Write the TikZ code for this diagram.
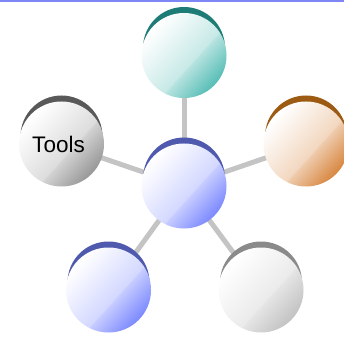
\documentclass[tikz,border=0pt]{standalone}
\usepackage{fontspec}
\setmainfont{Liberation Sans}
\usetikzlibrary{backgrounds}
\definecolor{topline}{HTML}{7F87F7}
\definecolor{connector}{HTML}{C4C4C4}
\definecolor{tealdark}{HTML}{1E7C76}
\definecolor{tealend}{HTML}{5BBFB8}
\definecolor{bluedark}{HTML}{4F5AAE}
\definecolor{blueend}{HTML}{7F8CFF}
\definecolor{graydark}{HTML}{595959}
\definecolor{grayend}{HTML}{9A9A9A}
\definecolor{orangedark}{HTML}{9C5A12}
\definecolor{orangeend}{HTML}{D98A45}
\definecolor{lgraydark}{HTML}{8A8A8A}
\definecolor{lgrayend}{HTML}{C4C4C4}
\newcommand{\myballshading}[2]{%
  \pgfdeclarehorizontalshading{#1}{100bp}{color(0bp)=(white); color(26bp)=(white); color(56bp)=(#2!34); color(56.6bp)=(#2!44); color(74bp)=(#2); color(100bp)=(#2)}}
\myballshading{tealsh}{tealend}
\myballshading{bluesh}{blueend}
\myballshading{graysh}{grayend}
\myballshading{orangesh}{orangeend}
\myballshading{lgraysh}{lgrayend}
\tikzset{
  ball/.style={circle, minimum size=85pt, inner sep=0pt, shading=#1, shading angle=-42},
  link/.style={draw=connector, line width=5pt},
}
\begin{document}
\begin{tikzpicture}[x=1pt, y=-1pt]
\useasboundingbox (0,0) rectangle (344,336);
\fill[topline] (0,0) rectangle (344,2.5);
% crescents
\fill[tealdark] (184,48) circle (41pt);
\fill[bluedark] (184,178.5) circle (41pt);
\fill[graydark] (61.5,136.5) circle (41pt);
\fill[orangedark] (306,136.5) circle (41pt);
\fill[bluedark] (108.5,282.5) circle (41pt);
\fill[lgraydark] (261,282.5) circle (41pt);
% main balls
\node[ball=tealsh] (t) at (184,55.5) {};
\node[ball=bluesh] (c) at (184,186) {};
\node[ball=graysh, label={[xshift=-3pt, font=\fontsize{22.5}{26}\selectfont]center:Tools}] (l) at (61.5,144) {};
\node[ball=orangesh] (r) at (306,144) {};
\node[ball=bluesh] (bl) at (108.5,290) {};
\node[ball=lgraysh] (br) at (261,290) {};
\begin{scope}[on background layer]
\draw[link] (c.center) -- (t.center);
\draw[link] (c.center) -- (l.center);
\draw[link] (c.center) -- (r.center);
\draw[link] (c.center) -- (bl.center);
\draw[link] (c.center) -- (br.center);
\end{scope}
\end{tikzpicture}
\end{document}
